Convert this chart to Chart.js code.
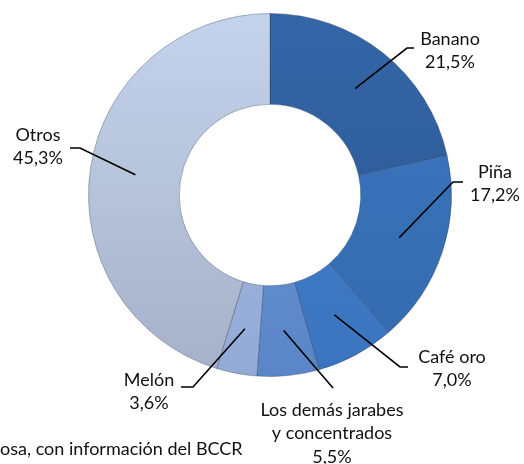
<!DOCTYPE html>
<html>
<head>
<meta charset="utf-8">
<script src="https://cdn.jsdelivr.net/npm/chart.js@4/dist/chart.umd.min.js"></script>
<style>
  html,body{margin:0;padding:0;background:#fff;}
  #wrap{position:relative;width:524px;height:464px;overflow:hidden;}
  canvas{display:block;}
</style>
</head>
<body>
<div id="wrap"><canvas id="c" width="524" height="464"></canvas></div>
<script>
const categories = ["Banano", "Piña", "Café oro", "Los demás jarabes y concentrados", "Melón", "Otros"];
const shares = [21.5, 17.2, 7.0, 5.5, 3.6, 45.3];
const valueLabels = ["21,5%", "17,2%", "7,0%", "5,5%", "3,6%", "45,3%"];
const labelLines = [["Banano"], ["Piña"], ["Café oro"], ["Los demás jarabes", "y concentrados"], ["Melón"], ["Otros"]];
const sourceNote = "osa, con información del BCCR";

const topColors = ["#3466A7", "#3D78C0", "#4584D2", "#6C98DA", "#A6BEE6", "#C4D3EC"];
const botColors = ["#2A5490", "#3369AE", "#3B74BE", "#5A86C8", "#93AAD6", "#A5B1C8"];

// label placement: text center x, first line center y, leader elbow, leader end
const labelLayout = [
  {tx: 450, ty: 39,  elbow: [407, 48],  end: [414, 48]},
  {tx: 495, ty: 172, elbow: [453, 182], end: [463, 182]},
  {tx: 452, ty: 357, elbow: [400, 367], end: [408, 367]},
  {tx: 332, ty: 410, elbow: [333, 388], end: [333, 388]},
  {tx: 149, ty: 380, elbow: [193, 387], end: [181, 387]},
  {tx: 38,  ty: 135, elbow: [80, 148],  end: [70, 148]}
];

const FONT = '18px Lato';
const LH = 23.5;

const labelPlugin = {
  id: 'leaderLabels',
  afterDatasetsDraw(chart) {
    const ctx = chart.ctx;
    const meta = chart.getDatasetMeta(0);
    ctx.save();
    meta.data.forEach((arc, i) => {
      const p = arc.getProps(['x','y','startAngle','endAngle','innerRadius','outerRadius'], true);
      const mid = (p.startAngle + p.endAngle) / 2;
      const r = (p.innerRadius + p.outerRadius) / 2;
      const sx = p.x + Math.cos(mid) * r;
      const sy = p.y + Math.sin(mid) * r;
      const L = labelLayout[i];
      ctx.beginPath();
      ctx.strokeStyle = '#000';
      ctx.lineWidth = 1.6;
      ctx.moveTo(sx, sy);
      ctx.lineTo(L.elbow[0], L.elbow[1]);
      ctx.lineTo(L.end[0], L.end[1]);
      ctx.stroke();
      const lines = labelLines[i].concat([valueLabels[i]]);
      ctx.fillStyle = '#111';
      ctx.font = FONT;
      ctx.textAlign = 'center';
      ctx.textBaseline = 'middle';
      lines.forEach((t, k) => ctx.fillText(t, L.tx, L.ty + k * LH));
    });
    ctx.textAlign = 'left';
    ctx.fillText(sourceNote, 0, 449);
    ctx.restore();
  }
};

function grad(context, i) {
  const chart = context.chart;
  const area = chart.chartArea;
  if (!area) return topColors[i];
  const g = chart.ctx.createLinearGradient(0, area.top, 0, area.bottom);
  g.addColorStop(0, topColors[i]);
  g.addColorStop(1, botColors[i]);
  return g;
}

new Chart(document.getElementById('c'), {
  type: 'doughnut',
  data: {
    labels: categories,
    datasets: [{
      data: shares,
      backgroundColor: (ctx) => grad(ctx, ctx.dataIndex),
      borderColor: 'rgba(40,55,80,0.35)',
      borderWidth: 1
    }]
  },
  options: {
    responsive: false,
    animation: false,
    cutout: '50%',
    layout: {padding: {left: 88, right: 72, top: 13, bottom: 87}},
    plugins: {legend: {display: false}, tooltip: {enabled: false}}
  },
  plugins: [labelPlugin]
});
</script>
</body>
</html>
